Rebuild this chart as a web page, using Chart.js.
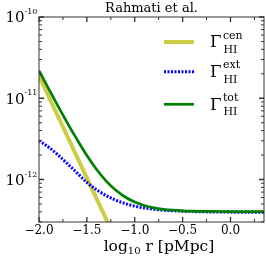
<!DOCTYPE html>
<html>
<head>
<meta charset="utf-8">
<script src="https://cdn.jsdelivr.net/npm/chart.js@4.4.1/dist/chart.umd.min.js"></script>
<style>
  html, body { margin: 0; padding: 0; background: #fff; }
  #wrap { width: 266px; height: 257px; position: relative; }
</style>
</head>
<body>
<div id="wrap"><canvas id="chart"></canvas></div>
<script>
/* ── Data ──────────────────────────────── */
const logR     = [-2.0, -1.9, -1.8, -1.7, -1.6, -1.5, -1.4, -1.3, -1.2, -1.1, -1.0, -0.9,
                  -0.8, -0.7, -0.6, -0.5, -0.4, -0.3, -0.2, -0.1, 0.0, 0.1, 0.2, 0.35];
const gammaExt = [3.0e-12, 2.5e-12, 2.0e-12, 1.55e-12, 1.2e-12, 9.2e-13, 7.5e-13, 6.36e-13,
                  5.58e-13, 5.06e-13, 4.7e-13, 4.46e-13, 4.3e-13, 4.19e-13, 4.12e-13, 4.07e-13,
                  4.03e-13, 4.01e-13, 3.99e-13, 3.98e-13, 3.97e-13, 3.96e-13, 3.96e-13, 3.96e-13];
const gammaTot = [2.19e-11, 1.31e-11, 7.94e-12, 4.88e-12, 3.07e-12, 1.97e-12, 1.336e-12, 9.64e-13,
                  7.42e-13, 6.09e-13, 5.28e-13, 4.78e-13, 4.48e-13, 4.3e-13, 4.19e-13, 4.12e-13,
                  4.08e-13, 4.06e-13, 4.05e-13, 4.04e-13, 4.03e-13, 4.03e-13, 4.03e-13, 4.03e-13];
const cenR     = [-2.0, -1.2];
const gammaCen = [1.89e-11, 1.84e-13];

const xMajor  = [-2.0, -1.5, -1.0, -0.5, 0.0];
const xMinor  = [-1.75, -1.25, -0.75, -0.25, 0.25];
const yDecade = [-10, -11, -12];
const seriesNames = [['cen', '#cccc47', 4, []], ['ext', '#0000ff', 3, [2, 1.5]], ['tot', '#008000', 2.7, []]];

const SERIF = '"DejaVu Serif", serif';
const pts = (xs, ys) => xs.map((v, i) => ({ x: v, y: ys[i] }));

/* ── Axes, ticks, labels, legend ───────── */
const decor = {
  id: 'decor',
  afterDatasetsDraw(chart) {
    const { ctx, chartArea: a, scales: { x, y } } = chart;
    ctx.save();
    ctx.strokeStyle = '#333';
    ctx.lineWidth = 1;
    ctx.strokeRect(a.left, a.top, a.right - a.left, a.bottom - a.top);

    function tickX(v, len, w) {
      const px = x.getPixelForValue(v);
      ctx.lineWidth = w;
      ctx.beginPath();
      ctx.moveTo(px, a.bottom); ctx.lineTo(px, a.bottom - len);
      ctx.moveTo(px, a.top);    ctx.lineTo(px, a.top + len);
      ctx.stroke();
    }
    function tickY(v, len, w) {
      const py = y.getPixelForValue(v);
      ctx.lineWidth = w;
      ctx.beginPath();
      ctx.moveTo(a.left, py);  ctx.lineTo(a.left + len, py);
      ctx.moveTo(a.right, py); ctx.lineTo(a.right - len, py);
      ctx.stroke();
    }
    xMajor.forEach(v => tickX(v, 5, 1.3));
    xMinor.forEach(v => tickX(v, 3, 1));
    for (let d = -13; d <= -11; d++) {
      for (let m = 2; m <= 9; m++) {
        const v = m * Math.pow(10, d);
        if (v > y.min && v < y.max) tickY(v, 3, 1);
      }
    }
    yDecade.forEach(d => tickY(Math.pow(10, d), 5, 1.3));

    ctx.fillStyle = '#000';
    // x tick labels
    ctx.font = '12px ' + SERIF;
    ctx.textAlign = 'center';
    ctx.textBaseline = 'alphabetic';
    xMajor.forEach(v => {
      const s = v.toFixed(1).replace('-', '\u2212');
      ctx.fillText(s, x.getPixelForValue(v), 233.5);
    });
    // y tick labels 10^d
    yDecade.forEach(d => {
      const py = y.getPixelForValue(Math.pow(10, d));
      ctx.textAlign = 'right';
      ctx.font = '15px ' + SERIF;
      ctx.fillText('10', 24.5, py + 5.3);
      ctx.textAlign = 'left';
      ctx.font = '8px ' + SERIF;
      ctx.fillText('-' + (-d), 24.5, py - 3);
    });
    // x axis label
    ctx.font = '15.5px ' + SERIF;
    const w1 = ctx.measureText('log').width;
    ctx.font = '10px ' + SERIF;
    const w2 = ctx.measureText('10').width;
    ctx.font = '15.5px ' + SERIF;
    const w3 = ctx.measureText(' r [pMpc]').width;
    let lx = 159 - (w1 + w2 + w3) / 2;
    ctx.textAlign = 'left';
    ctx.fillText('log', lx, 251);
    ctx.font = '10px ' + SERIF;
    ctx.fillText('10', lx + w1, 254);
    ctx.font = '15.5px ' + SERIF;
    ctx.fillText(' r [pMpc]', lx + w1 + w2, 251);
    // title
    ctx.textAlign = 'center';
    ctx.font = '13px ' + SERIF;
    ctx.fillText('Rahmati et al.', (a.left + a.right) / 2, 11.5);

    // legend
    const rows = [42, 71.7, 104.3];
    seriesNames.forEach((s, i) => {
      const ly = rows[i];
      ctx.strokeStyle = s[1];
      ctx.lineWidth = s[2];
      ctx.setLineDash(s[3]);
      ctx.beginPath();
      ctx.moveTo(164, ly); ctx.lineTo(194, ly);
      ctx.stroke();
      ctx.setLineDash([]);
      ctx.textAlign = 'left';
      ctx.font = '16.5px ' + SERIF;
      ctx.fillText('\u0393', 210, ly + 5.3);
      const gw = ctx.measureText('\u0393').width;
      ctx.font = '11px ' + SERIF;
      ctx.fillText(s[0], 210 + gw + 1.5, ly - 3.3);
      ctx.fillText('HI', 210 + gw + 2, ly + 11);
    });
    ctx.restore();
  }
};

new Chart(document.getElementById('chart'), {
  type: 'line',
  data: {
    datasets: [
      { label: 'tot', data: pts(logR, gammaTot), borderColor: '#008000', borderWidth: 2.7,
        pointRadius: 0, cubicInterpolationMode: 'monotone', order: 0, clip: 0 },
      { label: 'ext', data: pts(logR, gammaExt), borderColor: '#0000ff', borderWidth: 3,
        borderDash: [2, 1.5], pointRadius: 0, cubicInterpolationMode: 'monotone', order: 1, clip: 0 },
      { label: 'cen', data: pts(cenR, gammaCen), borderColor: '#cccc47', borderWidth: 4,
        pointRadius: 0, tension: 0, order: 2, clip: 0 }
    ]
  },
  options: {
    responsive: true,
    maintainAspectRatio: false,
    animation: false,
    devicePixelRatio: 1,
    layout: { padding: { top: 17, right: 2, left: 0, bottom: 0 } },
    plugins: { legend: { display: false }, tooltip: { enabled: false } },
    scales: {
      x: {
        type: 'linear', min: -2.0, max: 0.35,
        grid: { display: false }, border: { display: false },
        ticks: { display: false },
        afterFit: s => { s.height = 35; }
      },
      y: {
        type: 'logarithmic', min: 3e-13, max: 1e-10,
        grid: { display: false }, border: { display: false },
        ticks: { display: false },
        afterFit: s => { s.width = 39; }
      }
    }
  },
  plugins: [decor]
});
</script>
</body>
</html>
